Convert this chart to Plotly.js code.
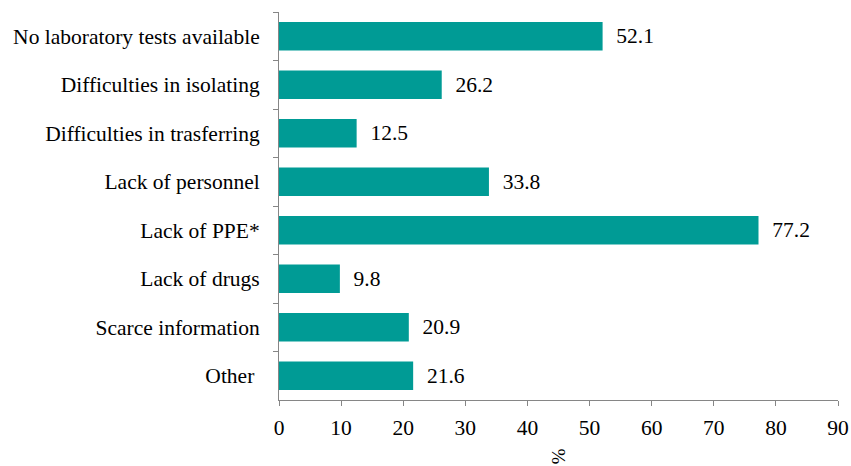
<!DOCTYPE html>
<html>
<head>
<meta charset="utf-8">
<script src="https://cdn.plot.ly/plotly-3.0.1.min.js"></script>
<style>html,body{margin:0;padding:0;background:#fff;}#chart{width:851px;height:466px;}</style>
</head>
<body>
<div id="chart"></div>
<script>
const categories = [
  "No laboratory tests available",
  "Difficulties in isolating",
  "Difficulties in trasferring",
  "Lack of personnel",
  "Lack of PPE*",
  "Lack of drugs",
  "Scarce information",
  "Other\u00a0"
];
const values = [52.1, 26.2, 12.5, 33.8, 77.2, 9.8, 20.9, 21.6];
const xTicks = [0, 10, 20, 30, 40, 50, 60, 70, 80, 90];

const font = {family: "'Liberation Serif', serif", size: 21.5, color: "#000"};
const axisGray = "#868686";

const trace = {
  type: "bar",
  orientation: "h",
  y: categories,
  x: values,
  marker: {color: "#009B95"},
  text: values.map(v => "\u00a0\u00a0" + v.toFixed(1)),
  textposition: "outside",
  textfont: font,
  cliponaxis: false,
  hoverinfo: "skip"
};

const layout = {
  width: 851,
  height: 466,
  margin: {l: 278.5, r: 12.5, t: 12, b: 66},
  paper_bgcolor: "#fff",
  plot_bgcolor: "#fff",
  font: font,
  showlegend: false,
  bargap: 0.41,
  xaxis: {
    range: [0, 90],
    tickvals: xTicks,
    showgrid: false,
    zeroline: false,
    showline: true,
    linecolor: axisGray,
    linewidth: 1,
    ticks: "outside",
    ticklen: 5,
    tickcolor: axisGray,
    tickfont: font,
    ticklabelstandoff: 3,
    fixedrange: true
  },
  yaxis: {
    autorange: "reversed",
    type: "category",
    showgrid: false,
    zeroline: false,
    showline: true,
    linecolor: axisGray,
    linewidth: 1,
    ticks: "outside",
    tickson: "boundaries",
    ticklen: 5,
    tickcolor: axisGray,
    tickfont: font,
    ticklabelstandoff: 14,
    fixedrange: true
  },
  annotations: [{
    text: "%",
    xref: "paper", yref: "paper",
    x: 0.5, y: 0,
    xanchor: "center", yanchor: "middle",
    yshift: -56,
    textangle: 90,
    showarrow: false,
    font: {family: font.family, size: 19, color: "#000"}
  }]
};

Plotly.newPlot("chart", [trace], layout, {displayModeBar: false, staticPlot: true});
</script>
</body>
</html>
